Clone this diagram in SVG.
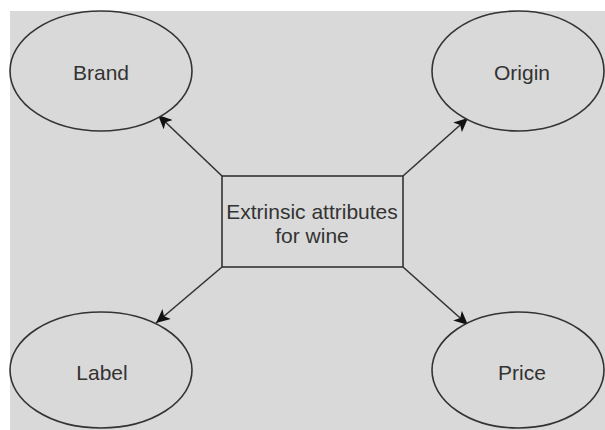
<svg xmlns="http://www.w3.org/2000/svg" width="605" height="430" viewBox="0 0 605 430">
  <style>
    .shape { fill: #d9d9d9; stroke: #333333; stroke-width: 1.6; }
    .txt { font-family: "Liberation Sans", Arial, sans-serif; font-size: 21px; fill: #333333; text-anchor: middle; }
    .edge { stroke: #333333; stroke-width: 1.6; fill: none; marker-end: url(#arrow); }
  </style>
  <defs>
    <marker id="arrow" markerUnits="userSpaceOnUse" markerWidth="15" markerHeight="13" refX="14" refY="6.5" orient="auto">
      <path d="M0,0 L14,6.5 L0,13 L3.5,6.5 Z" fill="#111111"/>
    </marker>
  </defs>
  <rect x="0" y="0" width="605" height="430" fill="#ffffff"/>
  <rect x="10" y="11" width="595" height="419" fill="#d9d9d9"/>

  <g id="connectors">
    <line class="edge" x1="222" y1="176" x2="158" y2="115"/>
    <line class="edge" x1="403" y1="176" x2="468" y2="118"/>
    <line class="edge" x1="222" y1="267" x2="156" y2="323"/>
    <line class="edge" x1="403" y1="267" x2="468" y2="325"/>
  </g>

  <g id="center">
    <rect class="shape" x="222" y="176" width="181" height="91"/>
    <text class="txt" x="312" y="219">Extrinsic attributes</text>
    <text class="txt" x="312" y="243">for wine</text>
  </g>

  <g id="brand">
    <ellipse class="shape" cx="101" cy="71" rx="91" ry="60"/>
    <text class="txt" x="101" y="80">Brand</text>
  </g>

  <g id="origin">
    <ellipse class="shape" cx="518" cy="71" rx="86" ry="60"/>
    <text class="txt" x="522" y="80">Origin</text>
  </g>

  <g id="label">
    <ellipse class="shape" cx="101" cy="370" rx="91" ry="58"/>
    <text class="txt" x="102" y="380">Label</text>
  </g>

  <g id="price">
    <ellipse class="shape" cx="518" cy="370" rx="86" ry="58"/>
    <text class="txt" x="522" y="380">Price</text>
  </g>
</svg>
